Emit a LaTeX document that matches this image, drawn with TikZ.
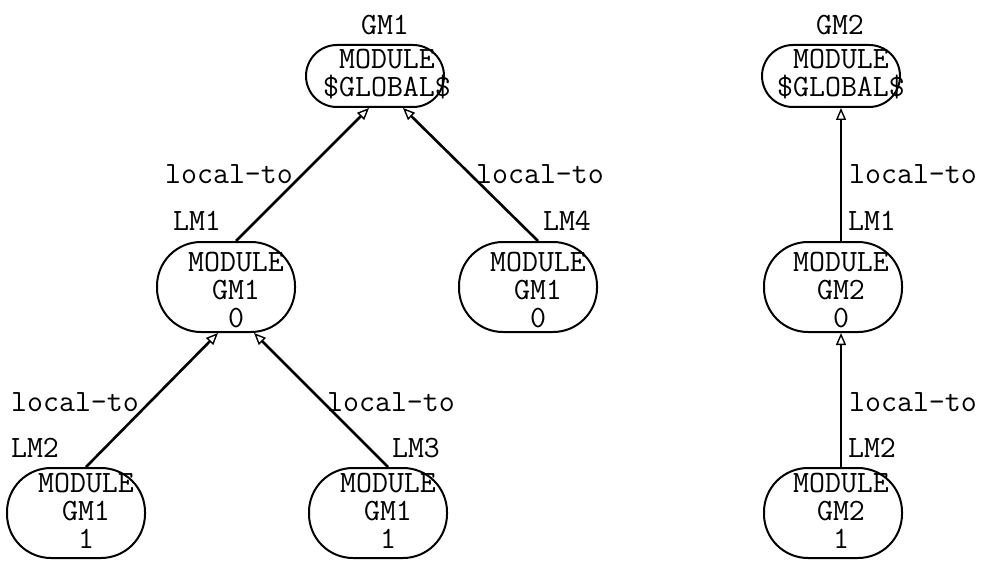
\documentclass[tikz,border=0pt]{standalone}
\usetikzlibrary{arrows.meta,calc}
\begin{document}
\begin{tikzpicture}[x=0.5pt,y=-0.5pt,
  tt/.style={font=\ttfamily\fontsize{15.5}{14}\selectfont, inner sep=0pt},
  txt/.style={tt, align=center},
  lbl/.style={tt},
  gbox/.style={draw, line width=1pt, rounded corners=15.5pt, minimum width=69pt, minimum height=31pt, inner sep=0pt},
  mbox/.style={draw, line width=1pt, rounded corners=22pt, minimum width=69pt, minimum height=45pt, inner sep=0pt},
  edge/.style={line width=1.3pt, -{Triangle[open,length=6pt,width=5pt,line width=0.7pt]}}]
\useasboundingbox (0,0) rectangle (989,561);

% global modules
\node[gbox] (gm1) at (375,76) {};
\node[txt] (gm1t) at (387,74) {MODULE\\\$GLOBAL\$};
\node[lbl] (gm1l) at (385,25) {GM1};
\node[gbox] (gm2) at (831,76) {};
\node[txt] (gm2t) at (841,74) {MODULE\\\$GLOBAL\$};
\node[lbl] (gm2l) at (840,25) {GM2};

% local modules, left tree
\node[mbox] (lm1) at (226,287) {};
\node[txt] (lm1t) at (236,290) {MODULE\\GM1\\0};
\node[mbox] (lm4) at (528,287) {};
\node[txt] (lm4t) at (538,290) {MODULE\\GM1\\0};
\node[mbox] (lm2) at (76,513) {};
\node[txt] (lm2t) at (86,511) {MODULE\\GM1\\1};
\node[mbox] (lm3) at (378,513) {};
\node[txt] (lm3t) at (388,511) {MODULE\\GM1\\1};

% right column
\node[mbox] (rlm1) at (833,287) {};
\node[txt] (rlm1t) at (841,290) {MODULE\\GM2\\0};
\node[mbox] (rlm2) at (833,513) {};
\node[txt] (rlm2t) at (841,511) {MODULE\\GM2\\1};

% edges
\draw[edge] (lm1.north -| lm1t.center) -- ($(gm1.south -| gm1t.center)+(-18,0)$);
\draw[edge] (lm4.north -| lm4t.center) -- ($(gm1.south -| gm1t.center)+(16,0)$);
\draw[edge] (lm2.north -| lm2t.center) -- ($(lm1.south -| lm1t.center)+(-18,0)$);
\draw[edge] (lm3.north -| lm3t.center) -- ($(lm1.south -| lm1t.center)+(18,0)$);
\draw[edge] (rlm1.north -| rlm1t.center) -- (gm2.south -| gm2t.center);
\draw[edge] (rlm2.north -| rlm2t.center) -- (rlm1.south -| rlm1t.center);

% edge labels
\node[lbl] (e1) at (229,174) {local-to};
\node[lbl] (n1) at (197,221) {LM1};
\node[lbl] (e4) at (540,174) {local-to};
\node[lbl] (n4) at (567,221) {LM4};
\node[lbl] (e2) at (75,402) {local-to};
\node[lbl] (n2) at (35,448) {LM2};
\node[lbl] (e3) at (391,402) {local-to};
\node[lbl] (n3) at (416,448) {LM3};
\node[lbl] (re1) at (913,174) {local-to};
\node[lbl] (rn1) at (872,221) {LM1};
\node[lbl] (re2) at (913,402) {local-to};
\node[lbl] (rn2) at (872,448) {LM2};
\end{tikzpicture}
\end{document}
